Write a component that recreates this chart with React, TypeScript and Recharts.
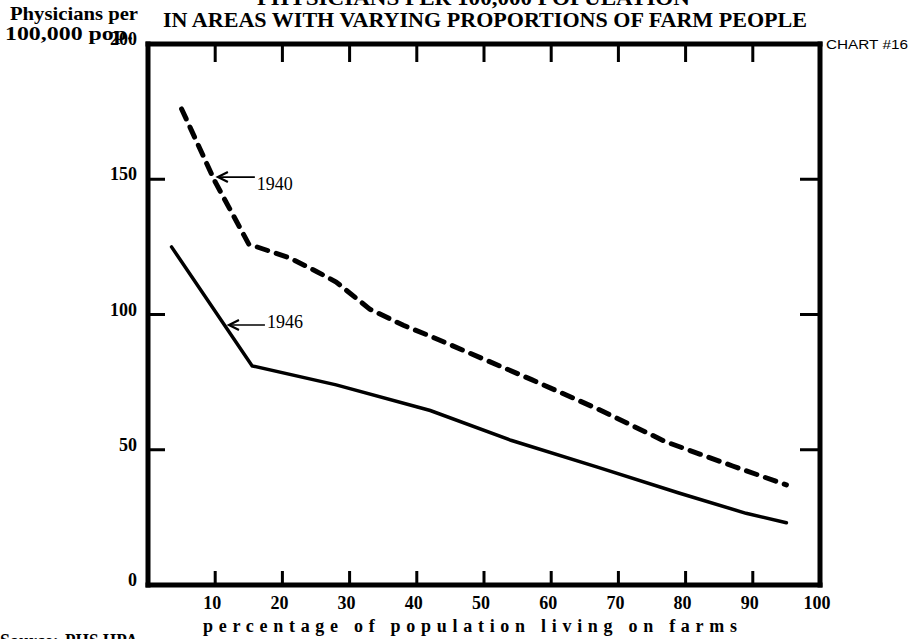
import React from 'react';
import { LineChart, Line, XAxis, YAxis, ReferenceLine } from 'recharts';

// percent of population living on farms vs physicians per 100,000 pop.
const farmPct1940 = [5, 10, 15, 21, 25, 28, 33, 38, 42, 57, 67, 77, 87, 95];
const physicians1940 = [176, 149, 126, 121, 116, 112, 102, 96, 92, 76, 65, 53, 44, 37];
const farmPct1946 = [3.5, 15.5, 28, 42, 54, 67, 79, 89, 95];
const physicians1946 = [125, 81, 74, 64.5, 53.5, 43.5, 34, 26.5, 23];

const xDomain = [0, 100];
const yDomain = [0, 200];
const xTicks = [10, 20, 30, 40, 50, 60, 70, 80, 90, 100];
const xTickMarks = [10, 20, 30, 40, 50, 60, 70, 80, 90];
const yTicks = [0, 50, 100, 150, 200];
const yTickMarks = [50, 100, 150];

const data1940 = farmPct1940.map((pct, i) => ({ pct, value: physicians1940[i] }));
const data1946 = farmPct1946.map((pct, i) => ({ pct, value: physicians1946[i] }));

const SERIF = "'Liberation Serif', 'DejaVu Serif', serif";
const frame = { stroke: '#000', strokeWidth: 5, strokeLinecap: 'square' as const };

const BottomLabel = (props: any) => {
  const { x, y, payload } = props;
  return (
    <text x={x - 3} y={y + 24} textAnchor="middle" fontFamily={SERIF} fontSize={18} fontWeight={700} fill="#000">
      {payload.value}
    </text>
  );
};

const LeftLabel = (props: any) => {
  const { x, y, payload } = props;
  return (
    <text x={x - 11} y={y + 1} textAnchor="end" fontFamily={SERIF} fontSize={18} fontWeight={700} fill="#000">
      {payload.value}
    </text>
  );
};

// anchor segment between two inner points; its ends give the scale,
// which places the inward tick marks on the top and bottom edges
const anchorLow = { x: 20, y: 50 };
const anchorHigh = { x: 80, y: 150 };

const edgeMarks = (props: any) => {
  const ax = Number(props.x1), ay = Number(props.y1);
  const bx = Number(props.x2), by = Number(props.y2);
  const px = (v: number) => ax + ((v - anchorLow.x) * (bx - ax)) / (anchorHigh.x - anchorLow.x);
  const py = (v: number) => ay + ((v - anchorLow.y) * (by - ay)) / (anchorHigh.y - anchorLow.y);
  const top = py(yDomain[1]);
  const bottom = py(yDomain[0]);
  const d = xTickMarks
    .map((v) => {
      const x = px(v);
      return `M${x - 1.5},${top} h3 v18 h-3 Z M${x - 1.5},${bottom - 14} h3 v14 h-3 Z`;
    })
    .join(' ');
  return <path d={d} fill="#000" stroke="none" />;
};

// inward marks at the left and right edge
const hMarks = (props: any) => {
  const { x1, x2, y1 } = props;
  const left = Math.min(x1, x2);
  const right = Math.max(x1, x2);
  return (
    <g>
      <line x1={left} y1={y1} x2={left + 17} y2={y1} stroke="#000" strokeWidth={3} />
      <line x1={right} y1={y1} x2={right - 20} y2={y1} stroke="#000" strokeWidth={3} />
    </g>
  );
};

const arrowLabel = (label: string, dy: number) => (props: any) => {
  const { x1, y1, x2, y2 } = props;
  return (
    <g>
      <line x1={x1} y1={y1} x2={x2} y2={y2} stroke="#000" strokeWidth={1.6} />
      <path d={`M${x2 + 10},${y2 - 5} L${x2},${y2} L${x2 + 10},${y2 + 5}`} fill="none" stroke="#000" strokeWidth={2.2} />
      <text x={x1 + 2} y={y1 + dy} fontFamily={SERIF} fontSize={18} fill="#000">{label}</text>
    </g>
  );
};

export default function App() {
  return (
    <div style={{ position: 'absolute', left: 0, top: 0, width: 916, height: 639, background: '#fff', overflow: 'hidden' }}>
      <LineChart width={916} height={639} margin={{ top: 43, right: 95, bottom: 4, left: 88 }}>
        <XAxis
          dataKey="pct"
          type="number"
          domain={xDomain}
          ticks={xTicks}
          interval={0}
          height={50}
          axisLine={frame}
          tickLine={false}
          tickSize={0}
          tickMargin={0}
          tick={BottomLabel}
        />
        <XAxis
          xAxisId="top"
          dataKey="pct"
          orientation="top"
          type="number"
          domain={xDomain}
          height={1}
          axisLine={frame}
          tickLine={false}
          tick={false}
        />
        <YAxis
          type="number"
          domain={yDomain}
          ticks={yTicks}
          interval={0}
          width={60}
          axisLine={frame}
          tickLine={false}
          tickSize={0}
          tickMargin={0}
          tick={LeftLabel}
        />
        <YAxis
          yAxisId="right"
          orientation="right"
          type="number"
          domain={yDomain}
          width={1}
          axisLine={frame}
          tickLine={false}
          tick={false}
        />
        <ReferenceLine segment={[anchorLow, anchorHigh]} shape={edgeMarks} />
        {yTickMarks.map((v) => (
          <ReferenceLine key={`y${v}`} y={v} shape={hMarks} />
        ))}
        <Line
          data={data1940}
          dataKey="value"
          type="linear"
          stroke="#000"
          strokeWidth={5}
          strokeDasharray="11 9"
          strokeLinecap="round"
          dot={false}
          isAnimationActive={false}
        />
        <Line
          data={data1946}
          dataKey="value"
          type="linear"
          stroke="#000"
          strokeWidth={3.5}
          strokeLinecap="round"
          dot={false}
          isAnimationActive={false}
        />
        <ReferenceLine segment={[{ x: 15.9, y: 150.8 }, { x: 10.4, y: 150.8 }]} shape={arrowLabel('1940', 13)} />
        <ReferenceLine segment={[{ x: 17.4, y: 96.1 }, { x: 12.05, y: 96.1 }]} shape={arrowLabel('1946', 3)} />
      </LineChart>
      <svg width={916} height={639} style={{ position: 'absolute', left: 0, top: 0, pointerEvents: 'none' }}>
        <text x={257} y={5} fontFamily={SERIF} fontSize={21} fontWeight={700} textLength={433} lengthAdjust="spacingAndGlyphs">
          PHYSICIANS PER 100,000 POPULATION
        </text>
        <text x={163} y={27} fontFamily={SERIF} fontSize={21} fontWeight={700} textLength={644} lengthAdjust="spacingAndGlyphs">
          IN AREAS WITH VARYING PROPORTIONS OF FARM PEOPLE
        </text>
        <text x={10} y={20} fontFamily={SERIF} fontSize={19} fontWeight={700} textLength={128} lengthAdjust="spacingAndGlyphs">
          Physicians per
        </text>
        <text x={5} y={40} fontFamily={SERIF} fontSize={19} fontWeight={700} textLength={128} lengthAdjust="spacingAndGlyphs">
          100,000 pop.
        </text>
        <text x={826} y={49} fontFamily="'Liberation Sans', 'DejaVu Sans', sans-serif" fontSize={12} textLength={82} lengthAdjust="spacingAndGlyphs">
          CHART #16
        </text>
        <text x={203} y={632} fontFamily={SERIF} fontSize={18} fontWeight={700} textLength={534} lengthAdjust="spacing">
          percentage of population living on farms
        </text>
        <text x={0} y={647} fontFamily={SERIF} fontSize={18} fontWeight={700}>Source:</text>
        <text x={65} y={647} fontFamily={SERIF} fontSize={18} fontWeight={700} textLength={73} lengthAdjust="spacingAndGlyphs">PHS HPA</text>
      </svg>
    </div>
  );
}
